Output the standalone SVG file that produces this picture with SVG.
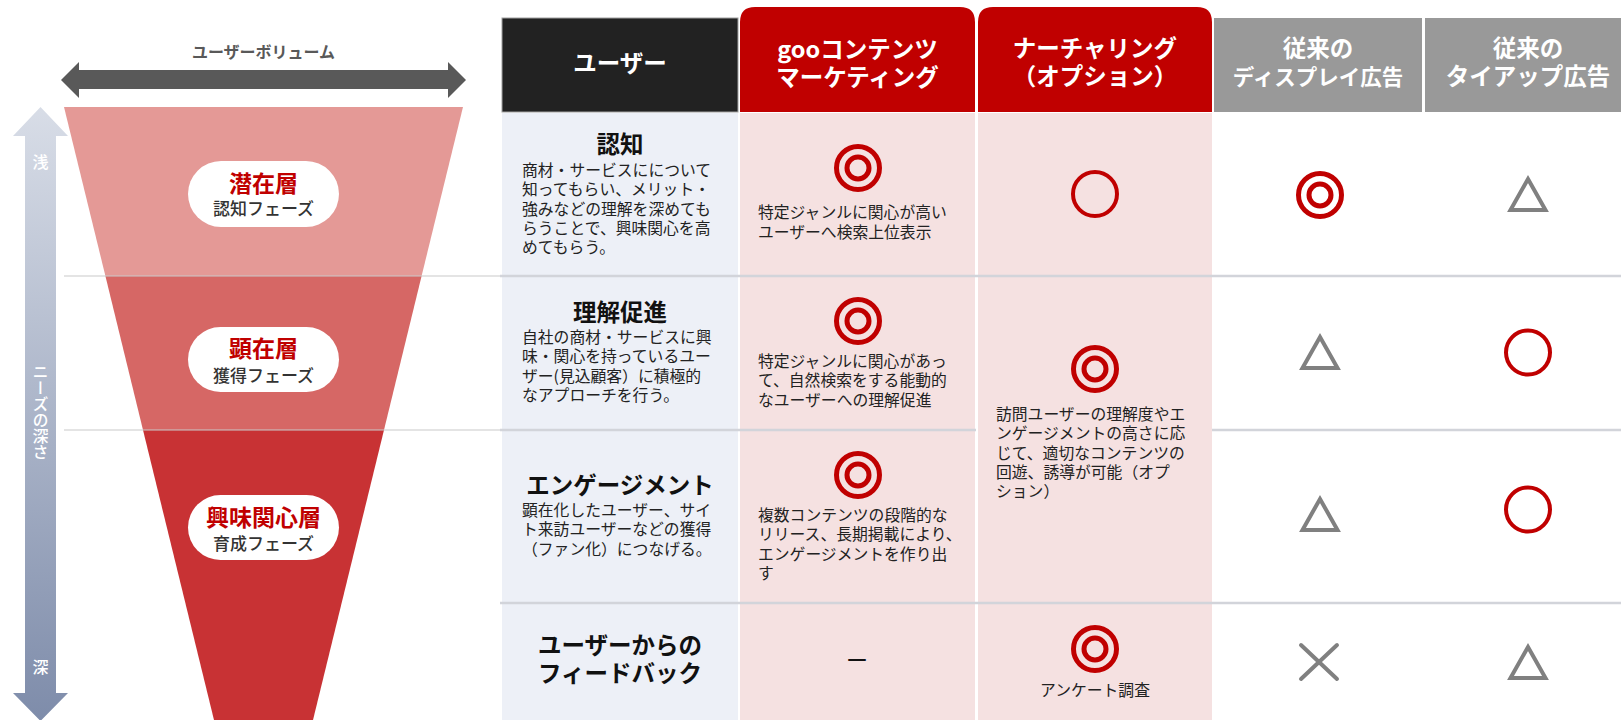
<svg xmlns="http://www.w3.org/2000/svg" width="1621" height="720" viewBox="0 0 1621 720">
<style>
text{font-family:"Noto Sans CJK JP","Noto Sans",sans-serif}
.hd{font-size:23.5px;font-weight:bold;fill:#fff;text-anchor:middle}
.ttl{font-size:23.5px;font-weight:bold;fill:#111;text-anchor:middle}
.desc{font-size:15.8px;fill:#222}
.pillT{font-size:23px;font-weight:bold;fill:#C00000;text-anchor:middle}
.pillS{font-size:17px;font-weight:500;fill:#333;text-anchor:middle}
.ring{fill:none;stroke:#C00000}
.tri{fill:none;stroke:#808080;stroke-width:4}
.xm{fill:none;stroke:#808080;stroke-width:4;stroke-linecap:round}
.sep{stroke:#D2D4DA;stroke-width:2.5}
.sepf{stroke:#CACACA;stroke-width:1.2}
.pill{fill:#fff}
.side{font-size:16px;font-weight:500;fill:#fff;text-anchor:middle}
</style>
<defs>
<linearGradient id="gv" x1="0" y1="0" x2="0" y2="1">
<stop offset="0" stop-color="#D8DDE7"/>
<stop offset="1" stop-color="#7E8CAA"/>
</linearGradient>
<g id="dbl"><circle r="21.5" class="ring" stroke-width="5"/><circle r="11" class="ring" stroke-width="5"/></g>
<circle id="sgl" r="22" class="ring" stroke-width="4"/>
<path id="tr" class="tri" d="M0,-15 L17.5,16 L-17.5,16 Z"/>
<g id="xx"><line class="xm" x1="-18" y1="-17" x2="18" y2="17"/><line class="xm" x1="18" y1="-17" x2="-18" y2="17"/></g>
</defs>
<rect width="1621" height="720" fill="#fff"/>

<!-- left side arrows -->
<g id="volume-arrow">
<path d="M61,80 L79,62 L79,70 L448,70 L448,62 L466,80 L448,98 L448,89 L79,89 L79,98 Z" fill="#595959"/>
<text x="263.5" y="58" font-size="16" font-weight="bold" fill="#595959" text-anchor="middle">ユーザーボリューム</text>
</g>
<g id="depth-arrow">
<path d="M40.5,107 L68,136 L56,136 L56,693 L68,693 L40.5,721 L13,693 L25,693 L25,136 L13,136 Z" fill="url(#gv)"/>
<text class="side" x="40.5" y="168">浅</text>
<text x="40.5" y="364" font-size="16" font-weight="500" fill="#fff" style="writing-mode:vertical-rl">ニーズの深さ</text>
<text class="side" x="40.5" y="673">深</text>
</g>

<!-- funnel -->
<g id="funnel">
<polygon points="64,107 463,107 421.6,276 105.4,276" fill="#E49996"/>
<polygon points="105.4,276 421.6,276 384,430 143,430" fill="#D66765"/>
<polygon points="143,430 384,430 313,720 214,720" fill="#C83234"/>
<line class="sepf" x1="64" y1="276" x2="500" y2="276"/>
<line class="sepf" x1="64" y1="430" x2="500" y2="430"/>
</g>
<g id="layer1">
<rect class="pill" x="188" y="161" width="151" height="66" rx="33"/>
<text x="263.5" y="192"><tspan class="pillT">潜在層</tspan><tspan class="pillS" x="263.5" y="214.5">認知フェーズ</tspan></text>
</g>
<g id="layer2">
<rect class="pill" x="188" y="327" width="151" height="65" rx="32.5"/>
<text x="263.5" y="357"><tspan class="pillT">顕在層</tspan><tspan class="pillS" x="263.5" y="381.5">獲得フェーズ</tspan></text>
</g>
<g id="layer3">
<rect class="pill" x="188" y="495" width="151" height="65" rx="32.5"/>
<text x="263.5" y="526"><tspan class="pillT">興味関心層</tspan><tspan class="pillS" x="263.5" y="549.5">育成フェーズ</tspan></text>
</g>

<!-- table columns -->
<g id="col-user">
<rect x="502" y="18" width="236" height="94" fill="#222" stroke="#A0A0A0" stroke-width="1"/>
<rect x="502" y="113" width="236" height="607" fill="#EDF0F7"/>
<text class="hd" x="620" y="72">ユーザー</text>
</g>
<g id="col-goo">
<path d="M740,112 L740,22 Q740,7 755,7 L960,7 Q975,7 975,22 L975,112 Z" fill="#C00000"/>
<rect x="740" y="113" width="235" height="607" fill="#F5E1E1"/>
<text class="hd" x="857.5" y="58">gooコンテンツ<tspan x="857.5" y="86">マーケティング</tspan></text>
</g>
<g id="col-nurture">
<path d="M978,112 L978,22 Q978,7 993,7 L1197,7 Q1212,7 1212,22 L1212,112 Z" fill="#C00000"/>
<rect x="978" y="113" width="234" height="607" fill="#F5E1E1"/>
<text class="hd" x="1095" y="57">ナーチャリング<tspan x="1095" y="85">（オプション）</tspan></text>
</g>
<g id="col-display">
<rect x="1214" y="18" width="208" height="94" fill="#999"/>
<text class="hd" x="1318" y="57">従来の<tspan x="1318" y="85" style="font-size:21.5px">ディスプレイ広告</tspan></text>
</g>
<g id="col-tieup">
<rect x="1425" y="18" width="196" height="94" fill="#999"/>
<text class="hd" x="1528" y="57">従来の<tspan x="1528" y="85">タイアップ広告</tspan></text>
</g>

<!-- row separators -->
<g id="separators">
<line class="sep" x1="500" y1="276" x2="1621" y2="276"/>
<line class="sep" x1="500" y1="430" x2="976" y2="430"/>
<line class="sep" x1="1212" y1="430" x2="1621" y2="430"/>
<line class="sep" x1="500" y1="603" x2="1621" y2="603"/>
</g>

<!-- row 1 -->
<g id="row-awareness">
<text x="620" y="152.5"><tspan class="ttl">認知</tspan><tspan class="desc" x="522" y="176">商材・サービスにについて</tspan><tspan class="desc" x="522" y="195.3">知ってもらい、メリット・</tspan><tspan class="desc" x="522" y="214.6">強みなどの理解を深めても</tspan><tspan class="desc" x="522" y="233.9">らうことで、興味関心を高</tspan><tspan class="desc" x="522" y="253.2">めてもらう。</tspan></text>
<use href="#dbl" x="858" y="168"/>
<text class="desc" x="758" y="217.7">特定ジャンルに関心が高い<tspan x="758" y="237.7">ユーザーへ検索上位表示</tspan></text>
<use href="#sgl" x="1095" y="194"/>
<use href="#dbl" x="1320" y="195"/>
<use href="#tr" x="1528" y="194"/>
</g>

<!-- row 2 -->
<g id="row-understanding">
<text x="620" y="321"><tspan class="ttl">理解促進</tspan><tspan class="desc" x="522" y="343">自社の商材・サービスに興</tspan><tspan class="desc" x="522" y="362.3">味・関心を持っているユー</tspan><tspan class="desc" x="522" y="381.6">ザー(見込顧客）に積極的</tspan><tspan class="desc" x="522" y="400.9">なアプローチを行う。</tspan></text>
<use href="#dbl" x="858" y="321"/>
<text class="desc" x="758" y="367">特定ジャンルに関心があっ<tspan x="758" y="386.3">て、自然検索をする能動的</tspan><tspan x="758" y="405.6">なユーザーへの理解促進</tspan></text>
<use href="#tr" x="1320" y="352"/>
<use href="#sgl" x="1528" y="352.5"/>
</g>

<!-- nurturing merged cell -->
<g id="nurture-merged">
<use href="#dbl" x="1095" y="369"/>
<text class="desc" x="996" y="420">訪問ユーザーの理解度やエ<tspan x="996" y="439.3">ンゲージメントの高さに応</tspan><tspan x="996" y="458.6">じて、適切なコンテンツの</tspan><tspan x="996" y="477.9">回遊、誘導が可能（オプ</tspan><tspan x="996" y="497.2">ション）</tspan></text>
</g>

<!-- row 3 -->
<g id="row-engagement">
<text x="620" y="494"><tspan class="ttl">エンゲージメント</tspan><tspan class="desc" x="522" y="516">顕在化したユーザー、サイ</tspan><tspan class="desc" x="522" y="535.3">ト来訪ユーザーなどの獲得</tspan><tspan class="desc" x="522" y="554.6">（ファン化）につなげる。</tspan></text>
<use href="#dbl" x="858" y="475"/>
<text class="desc" x="758" y="521">複数コンテンツの段階的な<tspan x="758" y="540.3">リリース、長期掲載により、</tspan><tspan x="758" y="559.6">エンゲージメントを作り出</tspan><tspan x="758" y="578.9">す</tspan></text>
<use href="#tr" x="1320" y="514"/>
<use href="#sgl" x="1528" y="509.5"/>
</g>

<!-- row 4 -->
<g id="row-feedback">
<text class="ttl" x="620" y="654">ユーザーからの<tspan x="620" y="682">フィードバック</tspan></text>
<text x="857" y="668" font-size="22" fill="#111" text-anchor="middle">ー</text>
<use href="#dbl" x="1095" y="649"/>
<text class="desc" x="1095" y="696" text-anchor="middle">アンケート調査</text>
<use href="#xx" x="1319" y="662"/>
<use href="#tr" x="1528" y="662"/>
</g>
</svg>
